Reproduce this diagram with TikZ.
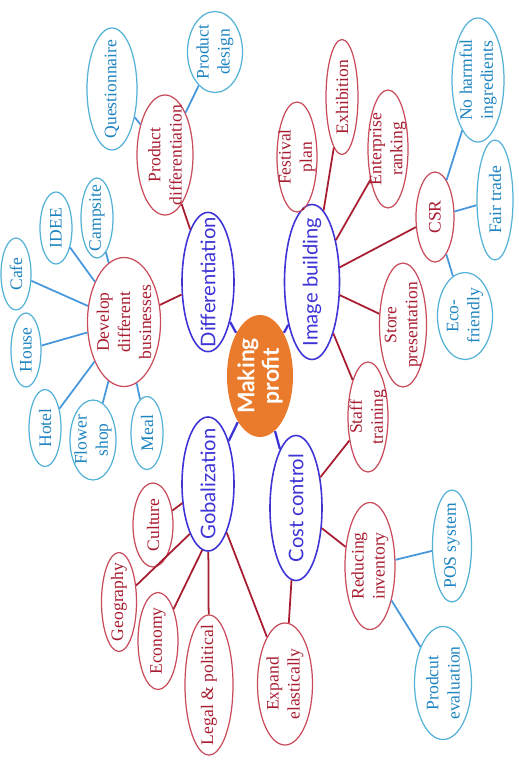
\documentclass[tikz,border=0pt]{standalone}
\usepackage{fontspec}
\setmainfont{Liberation Serif}
\newfontfamily\mapsans{Lato}
\usepackage{tikz}
\usetikzlibrary{shapes.geometric}
\definecolor{mporange}{RGB}{234,123,44}
\definecolor{mpblue}{RGB}{62,52,214}
\definecolor{mpred}{RGB}{168,28,48}
\definecolor{mpredline}{RGB}{200,76,92}
\definecolor{mpcyan}{RGB}{84,178,214}
\definecolor{mpcyantext}{RGB}{30,132,192}
\tikzset{
	bub/.style={ellipse, rotate=90, inner xsep=-9pt, inner ysep=-4pt, align=center, line width=0.7pt},
	sz/.style 2 args={minimum height=#1*0.02cm, minimum width=#2*0.02cm},
	hub/.style={bub, fill=mporange, draw=none, text=white, font=\mapsans\bfseries\fontsize{13}{14}\selectfont},
	topic/.style={bub, draw=mpblue, line width=0.9pt, text=mpblue, font=\mapsans\fontsize{11.5}{13}\selectfont},
	sub/.style={bub, draw=mpredline, text=mpred, font=\fontsize{10}{12}\selectfont},
	leaf/.style={bub, draw=mpcyan, text=mpcyantext, font=\fontsize{10}{12}\selectfont},
	bline/.style={draw=mpblue, line width=1.3pt},
	rline/.style={draw=mpred, line width=1pt},
	cline/.style={draw=mpcyan!85!blue, line width=1pt}
}
\begin{document}
\begin{tikzpicture}[x=0.02cm,y=-0.02cm]
	\useasboundingbox (0,0) rectangle (519,761);
	\node[hub, sz={66}{122}] (mp) at (260,376) {Making\\profit};
	\node[topic, sz={52}{137}] (diff) at (208,282) {Differentiation};
	\node[topic, sz={55}{155}] (img) at (312,282) {Image building};
	\node[topic, sz={52}{134}] (glob) at (208,484) {Gobalization};
	\node[topic, sz={52}{145}] (cost) at (296,508) {Cost control};
	\node[sub, sz={56}{120}] (pdiff) at (165,155) {Product\\differentiation};
	\node[sub, sz={73}{129}] (dev) at (124,322) {Develop\\different\\businesses};
	\node[sub, sz={40}{110}] (fest) at (297,157) {Festival\\plan};
	\node[sub, sz={32}{115}] (exh) at (342,97) {Exhibition};
	\node[sub, sz={40}{118}] (rank) at (388,149) {Enterprise\\ranking};
	\node[sub, sz={38}{90}] (csr) at (435,217) {CSR};
	\node[sub, sz={47}{124}] (store) at (403,325) {Store\\presentation};
	\node[sub, sz={40}{110}] (staff) at (368,417) {Staff\\training};
	\node[sub, sz={50}{127}] (redinv) at (370,566) {Reducing\\inventory};
	\node[sub, sz={55}{122}] (expand) at (285,684) {Expand\\elastically};
	\node[sub, sz={40}{84}] (cult) at (153,525) {Culture};
	\node[sub, sz={35}{99}] (geo) at (119,602) {Geography};
	\node[sub, sz={40}{97}] (econ) at (158,641) {Economy};
	\node[sub, sz={48}{140}] (legal) at (209,685) {Legal \& political};
	\node[leaf, sz={50}{122}] (quest) at (112,89) {Questionnaire};
	\node[leaf, sz={55}{81}] (pdesign) at (215,52) {Product\\design};
	\node[leaf, sz={32}{80}] (camp) at (97,218) {Campsite};
	\node[leaf, sz={32}{72}] (idee) at (56,228) {IDEE};
	\node[leaf, sz={30}{72}] (cafe) at (16,274) {Cafe};
	\node[leaf, sz={30}{74}] (house) at (26,350) {House};
	\node[leaf, sz={32}{77}] (hotel) at (45,428) {Hotel};
	\node[leaf, sz={46}{80}] (flower) at (93,440) {Flower\\shop};
	\node[leaf, sz={32}{73}] (meal) at (147,433) {Meal};
	\node[leaf, sz={52}{124}] (noharm) at (478,80) {No harmful\\ingredients};
	\node[leaf, sz={36}{120}] (fair) at (495,200) {Fair trade};
	\node[leaf, sz={55}{87}] (eco) at (465,316) {Eco-\\friendly};
	\node[leaf, sz={39}{112}] (pos) at (452,546) {POS system};
	\node[leaf, sz={57}{113}] (peval) at (443,683) {Prodcut\\evaluation};
	\draw[bline] (mp) -- (diff);
	\draw[bline] (mp) -- (img);
	\draw[bline] (mp) -- (glob);
	\draw[bline] (mp) -- (cost);
	\draw[rline] (diff) -- (pdiff);
	\draw[rline] (diff) -- (dev);
	\draw[rline] (img) -- (fest);
	\draw[rline] (img) -- (exh);
	\draw[rline] (img) -- (rank);
	\draw[rline] (img) -- (csr);
	\draw[rline] (img) -- (store);
	\draw[rline] (img) -- (staff);
	\draw[rline] (cost) -- (staff);
	\draw[rline] (cost) -- (redinv);
	\draw[rline] (cost) -- (expand);
	\draw[rline] (glob) -- (expand);
	\draw[rline] (glob) -- (cult);
	\draw[rline] (glob.160) -- (geo);
	\draw[rline] (glob.175) -- (econ);
	\draw[rline] (glob) -- (legal);
	\draw[cline] (pdiff) -- (quest);
	\draw[cline] (pdiff) -- (pdesign);
	\draw[cline] (dev) -- (camp);
	\draw[cline] (dev) -- (idee);
	\draw[cline] (dev) -- (cafe);
	\draw[cline] (dev) -- (house);
	\draw[cline] (dev) -- (hotel);
	\draw[cline] (dev) -- (flower);
	\draw[cline] (dev) -- (meal);
	\draw[cline] (csr) -- (noharm);
	\draw[cline] (csr) -- (fair);
	\draw[cline] (csr) -- (eco);
	\draw[cline] (redinv) -- (pos);
	\draw[cline] (redinv) -- (peval);
\end{tikzpicture}
\end{document}
